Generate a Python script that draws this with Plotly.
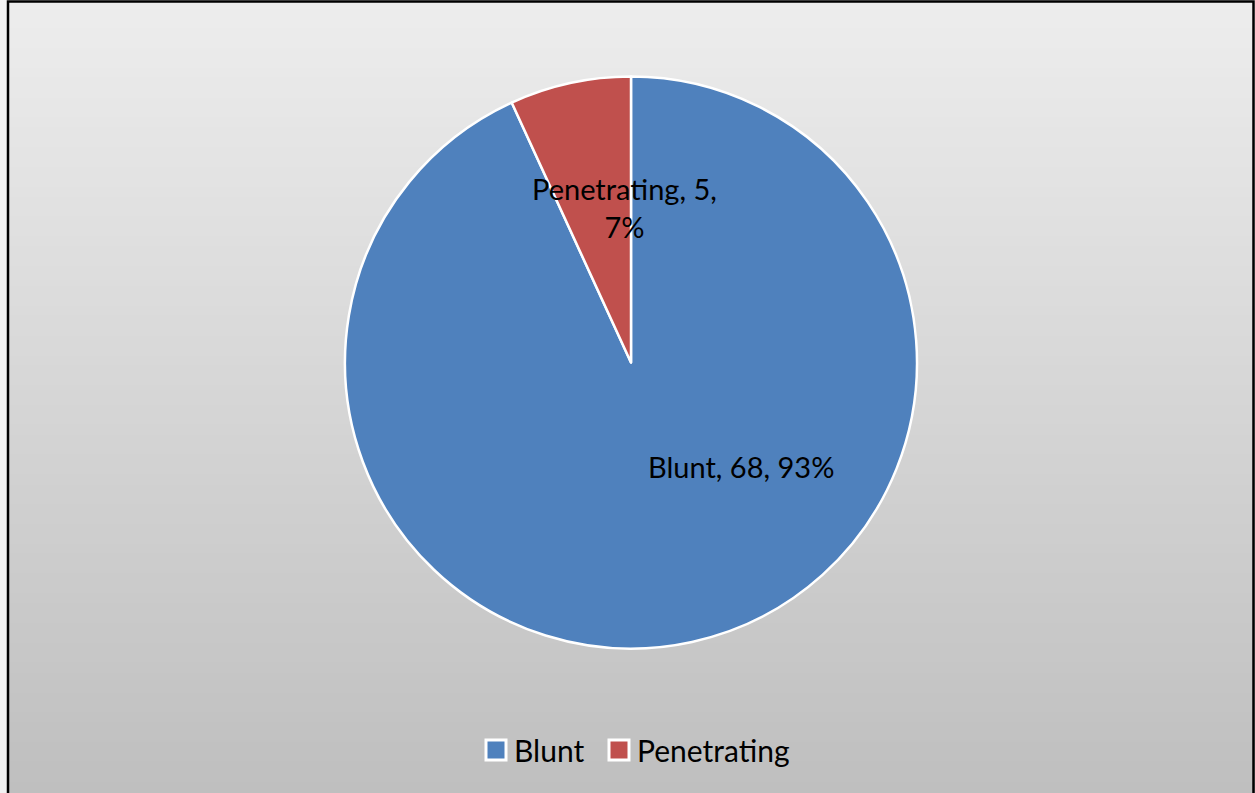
import plotly.graph_objects as go

# Injury mechanism counts
categories = ["Blunt", "Penetrating"]
counts = [68, 5]
slice_colors = ["#4F81BD", "#C0504D"]

W, H = 1255, 793
FONT = "Lato"

total = sum(counts)
pcts = [round(100 * c / total) for c in counts]

fig = go.Figure()
fig.add_trace(go.Pie(
    labels=categories,
    values=counts,
    sort=False,
    direction="clockwise",
    rotation=0,
    textinfo="none",
    hoverinfo="label+value+percent",
    showlegend=False,
    marker=dict(colors=slice_colors, line=dict(color="white", width=2.5)),
    domain=dict(x=[345 / W, 917 / W], y=[1 - 649 / H, 1 - 76 / H]),
))

# Vertical grey gradient behind the chart
shapes = []
n = 80
top = (237, 237, 237)
bot = (191, 191, 191)
for i in range(n):
    t = i / (n - 1)
    c = tuple(round(top[k] + (bot[k] - top[k]) * t) for k in range(3))
    shapes.append(dict(
        type="rect", xref="paper", yref="paper", layer="below",
        x0=8 / W, x1=1, y0=1 - (i + 1) / n, y1=1 - i / n + 0.002,
        fillcolor="rgb(%d,%d,%d)" % c, line=dict(width=0),
    ))
# Chart border
shapes.append(dict(
    type="rect", xref="paper", yref="paper", layer="above",
    x0=8 / W, x1=1253.5 / W, y0=-0.01, y1=1 - 1.5 / H,
    line=dict(color="black", width=2.5), fillcolor="rgba(0,0,0,0)",
))

annotations = [
    dict(text=f"{categories[0]}, {counts[0]}, {pcts[0]}%",
         x=741 / W, y=1 - 467 / H, xref="paper", yref="paper",
         showarrow=False, xanchor="center", yanchor="middle",
         font=dict(family=FONT, size=29, color="black")),
    dict(text=f"{categories[1]}, {counts[1]},<br>{pcts[1]}%",
         x=624 / W, y=1 - 207 / H, xref="paper", yref="paper",
         showarrow=False, xanchor="center", yanchor="middle",
         font=dict(family=FONT, size=29, color="black")),
]

# Legend: square swatch with white edge, then the category name
legend_x = [486, 609]   # left edge of each swatch, px
legend_y = 750          # vertical centre, px
sw = 20
for name, col, lx in zip(categories, slice_colors, legend_x):
    shapes.append(dict(
        type="rect", xref="paper", yref="paper", layer="above",
        x0=lx / W, x1=(lx + sw) / W,
        y0=1 - (legend_y + sw / 2) / H, y1=1 - (legend_y - sw / 2) / H,
        fillcolor=col, line=dict(color="white", width=3),
    ))
    annotations.append(dict(
        text=name, x=(lx + sw + 6) / W, y=1 - legend_y / H,
        xref="paper", yref="paper", showarrow=False,
        xanchor="left", yanchor="middle",
        font=dict(family=FONT, size=30, color="black"),
    ))

fig.update_layout(
    width=W, height=H,
    margin=dict(l=0, r=0, t=0, b=0),
    paper_bgcolor="#f2f2f2",
    plot_bgcolor="rgba(0,0,0,0)",
    shapes=shapes,
    annotations=annotations,
    showlegend=False,
)

fig.write_html("out.html")
